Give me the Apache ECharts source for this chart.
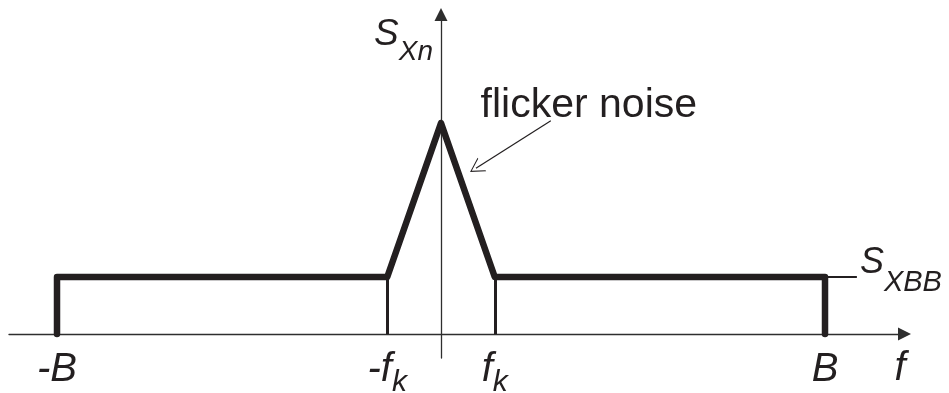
<!DOCTYPE html>
<html>
<head>
<meta charset="utf-8">
<script src="https://cdn.jsdelivr.net/npm/echarts@6/dist/echarts.min.js"></script>
<style>
  html, body { margin: 0; padding: 0; background: #ffffff; }
  #chart { width: 949px; height: 393px; }
</style>
</head>
<body>
<div id="chart"></div>
<script>
// Frequency ticks, in units where the band edge B = 10
const tickFreqs = [-10, -1.4, 1.4, 10];
const tickMain = ['-B', '-f', 'f', 'B'];
const tickSub = ['', 'k', 'k', ''];

// Noise spectral density: flat baseband floor with the flicker-noise peak
const spectrumFreq = [-10, -10, -1.4, 0, 1.4, 10, 10];
const spectrumLevel = [0, 1, 1, 3.7, 1, 1, 0];

// Corner frequencies and the floor level
const cornerFreqs = [-1.4, 1.4];
const floorLevel = 1;

// Short leader from the band edge to the S_XBB label
const leaderFreq = [10, 10.83];

// Flicker-noise callout: arrow start, arrow end, text anchor
const calloutFrom = [2.86, 3.74];
const calloutTo = [0.91, 2.91];
const calloutText = [3.85, 3.64];

const INK = '#231f20';
const AXIS = '#2e2e2e';
const FONT = 'Liberation Sans, Arial, sans-serif';

const chart = echarts.init(document.getElementById('chart'), null, { renderer: 'canvas' });

const spectrumData = spectrumFreq.map((f, i) => [f, spectrumLevel[i]]);
const cornerLines = cornerFreqs.map(f => [
  { coord: [f, 0], lineStyle: { color: INK, width: 3, type: 'solid' } },
  { coord: [f, floorLevel] }
]);
const calloutLine = [
  { coord: calloutFrom, symbol: 'none', lineStyle: { color: INK, width: 1.2, type: 'solid' } },
  { coord: calloutTo, symbol: 'path://M8,0 L16,14 L14.8,14 L8,2.1 L1.2,14 L0,14 Z', symbolSize: [16, 14] }
];

const option = {
  backgroundColor: '#ffffff',
  animation: false,
  grid: { left: 9, right: 44.5, top: 14.5, bottom: 35, containLabel: false, outerBoundsMode: 'none' },
  xAxis: {
    type: 'value',
    min: -11.25,
    max: 12.07,
    splitLine: { show: false },
    axisTick: { show: false },
    axisLine: {
      onZero: true,
      symbol: ['none', 'triangle'],
      symbolSize: [13, 13],
      lineStyle: { color: AXIS, width: 1.3 }
    },
    axisLabel: {
      customValues: tickFreqs,
      margin: -8,
      verticalAlign: 'top',
      formatter: function (v) {
        const i = tickFreqs.indexOf(v);
        if (i < 0) return '';
        return '{m|' + tickMain[i] + '}' + (tickSub[i] ? '{s|' + tickSub[i] + '}' : '');
      },
      rich: {
        m: { fontSize: 40, lineHeight: 40, verticalAlign: 'top', fontStyle: 'italic', fontFamily: FONT, color: INK },
        s: { fontSize: 30, lineHeight: 30, verticalAlign: 'top', padding: [18, 0, 0, 0], fontStyle: 'italic', fontFamily: FONT, color: INK }
      }
    },
    name: 'f',
    nameLocation: 'end',
    nameGap: -4.5,
    nameTextStyle: {
      fontSize: 40, lineHeight: 40, fontStyle: 'italic', fontFamily: FONT, color: INK,
      align: 'center', verticalAlign: 'top', padding: [15, 0, 0, 0]
    }
  },
  yAxis: {
    type: 'value',
    min: -0.42,
    max: 5.605,
    splitLine: { show: false },
    axisTick: { show: false },
    axisLabel: { show: false },
    axisLine: {
      onZero: true,
      symbol: ['none', 'triangle'],
      symbolSize: [13, 13],
      lineStyle: { color: AXIS, width: 1.3 }
    },
    name: '{m|S}{s|Xn}',
    nameLocation: 'end',
    nameGap: -2,
    nameTextStyle: {
      align: 'right', verticalAlign: 'top', padding: [0, 8, 0, 0],
      rich: {
        m: { fontSize: 37, lineHeight: 37, verticalAlign: 'top', fontStyle: 'italic', fontFamily: FONT, color: INK },
        s: { fontSize: 28, lineHeight: 28, verticalAlign: 'top', padding: [22, 0, 0, 0], fontStyle: 'italic', fontFamily: FONT, color: INK }
      }
    }
  },
  series: [
    {
      name: 'spectrum',
      type: 'line',
      data: spectrumData,
      symbol: 'none',
      silent: true,
      lineStyle: { color: INK, width: 6.5, cap: 'round', join: 'round' },
      z: 3,
      markLine: {
        silent: true,
        animation: false,
        symbol: 'none',
        label: { show: false },
        emphasis: { disabled: true },
        data: cornerLines.concat([calloutLine])
      }
    },
    {
      name: 'floor leader',
      type: 'line',
      data: leaderFreq.map(f => [f, floorLevel]),
      symbol: 'none',
      silent: true,
      lineStyle: { color: INK, width: 2 },
      z: 2,
      endLabel: {
        show: true,
        distance: 3,
        padding: [0, 0, 30, 0],
        formatter: '{m|S}{s|XBB}',
        rich: {
          m: { fontSize: 36, lineHeight: 35, verticalAlign: 'top', fontStyle: 'italic', fontFamily: FONT, color: INK },
          s: { fontSize: 29, lineHeight: 29, verticalAlign: 'top', padding: [24, 0, 0, 0], fontStyle: 'italic', fontFamily: FONT, color: INK }
        }
      }
    },
    {
      name: 'callout',
      type: 'scatter',
      data: [calloutText],
      symbolSize: 0,
      silent: true,
      itemStyle: { opacity: 1 },
      label: {
        show: true,
        position: 'top',
        distance: 0,
        formatter: 'flicker noise',
        fontSize: 41,
        lineHeight: 41,
        fontFamily: FONT,
        color: INK,
        opacity: 1
      }
    }
  ]
};

chart.setOption(option);
</script>
</body>
</html>
